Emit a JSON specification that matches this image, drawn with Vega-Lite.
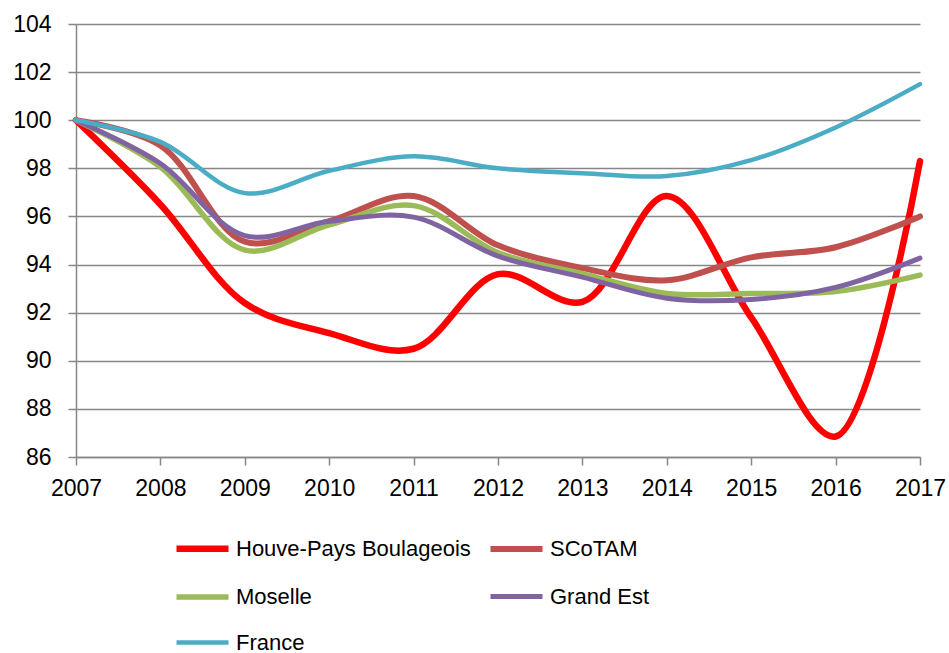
{
  "$schema": "https://vega.github.io/schema/vega-lite/v6.json",
  "width": 844,
  "height": 433,
  "autosize": "none",
  "padding": {"left": 76, "top": 24, "right": 29, "bottom": 196},
  "background": "white",
  "config": {
    "view": {"stroke": null},
    "font": "Liberation Sans",
    "axis": {
      "labelFont": "Liberation Sans",
      "labelFontSize": 23,
      "labelColor": "#000000",
      "domainColor": "#868686",
      "domainWidth": 1.5,
      "tickColor": "#868686",
      "tickWidth": 1.5,
      "tickSize": 8,
      "gridColor": "#868686",
      "gridWidth": 1.5,
      "gridOpacity": 1,
      "title": null
    }
  },
  "data": {
    "values": [
      {"year": 2007, "series": "Houve-Pays Boulageois", "value": 100},
      {"year": 2008, "series": "Houve-Pays Boulageois", "value": 96.5},
      {"year": 2009, "series": "Houve-Pays Boulageois", "value": 92.4},
      {"year": 2010, "series": "Houve-Pays Boulageois", "value": 91.15},
      {"year": 2011, "series": "Houve-Pays Boulageois", "value": 90.5},
      {"year": 2012, "series": "Houve-Pays Boulageois", "value": 93.6},
      {"year": 2013, "series": "Houve-Pays Boulageois", "value": 92.45},
      {"year": 2014, "series": "Houve-Pays Boulageois", "value": 96.85},
      {"year": 2015, "series": "Houve-Pays Boulageois", "value": 91.8},
      {"year": 2016, "series": "Houve-Pays Boulageois", "value": 86.85},
      {"year": 2017, "series": "Houve-Pays Boulageois", "value": 98.3},
      {"year": 2007, "series": "SCoTAM", "value": 100},
      {"year": 2008, "series": "SCoTAM", "value": 98.95},
      {"year": 2009, "series": "SCoTAM", "value": 94.95},
      {"year": 2010, "series": "SCoTAM", "value": 95.8},
      {"year": 2011, "series": "SCoTAM", "value": 96.85},
      {"year": 2012, "series": "SCoTAM", "value": 94.8},
      {"year": 2013, "series": "SCoTAM", "value": 93.85},
      {"year": 2014, "series": "SCoTAM", "value": 93.35},
      {"year": 2015, "series": "SCoTAM", "value": 94.3},
      {"year": 2016, "series": "SCoTAM", "value": 94.72},
      {"year": 2017, "series": "SCoTAM", "value": 96},
      {"year": 2007, "series": "Moselle", "value": 100},
      {"year": 2008, "series": "Moselle", "value": 98.05},
      {"year": 2009, "series": "Moselle", "value": 94.6},
      {"year": 2010, "series": "Moselle", "value": 95.65},
      {"year": 2011, "series": "Moselle", "value": 96.45},
      {"year": 2012, "series": "Moselle", "value": 94.5},
      {"year": 2013, "series": "Moselle", "value": 93.62},
      {"year": 2014, "series": "Moselle", "value": 92.8},
      {"year": 2015, "series": "Moselle", "value": 92.8},
      {"year": 2016, "series": "Moselle", "value": 92.88},
      {"year": 2017, "series": "Moselle", "value": 93.56},
      {"year": 2007, "series": "Grand Est", "value": 100},
      {"year": 2008, "series": "Grand Est", "value": 98.2},
      {"year": 2009, "series": "Grand Est", "value": 95.2},
      {"year": 2010, "series": "Grand Est", "value": 95.8},
      {"year": 2011, "series": "Grand Est", "value": 95.97},
      {"year": 2012, "series": "Grand Est", "value": 94.35},
      {"year": 2013, "series": "Grand Est", "value": 93.48},
      {"year": 2014, "series": "Grand Est", "value": 92.6},
      {"year": 2015, "series": "Grand Est", "value": 92.55},
      {"year": 2016, "series": "Grand Est", "value": 93.05},
      {"year": 2017, "series": "Grand Est", "value": 94.27},
      {"year": 2007, "series": "France", "value": 100},
      {"year": 2008, "series": "France", "value": 99.1},
      {"year": 2009, "series": "France", "value": 96.97},
      {"year": 2010, "series": "France", "value": 97.9},
      {"year": 2011, "series": "France", "value": 98.5},
      {"year": 2012, "series": "France", "value": 98.0},
      {"year": 2013, "series": "France", "value": 97.8},
      {"year": 2014, "series": "France", "value": 97.68},
      {"year": 2015, "series": "France", "value": 98.34},
      {"year": 2016, "series": "France", "value": 99.7},
      {"year": 2017, "series": "France", "value": 101.5}
    ]
  },
  "mark": {"type": "line", "interpolate": "catmull-rom", "strokeCap": "round"},
  "encoding": {
    "x": {
      "field": "year",
      "type": "quantitative",
      "scale": {"domain": [2007, 2017], "nice": false, "zero": false},
      "axis": {
        "values": [2007, 2008, 2009, 2010, 2011, 2012, 2013, 2014, 2015, 2016, 2017],
        "format": "d",
        "grid": false,
        "labelPadding": 12,
        "labelFlush": false
      }
    },
    "y": {
      "field": "value",
      "type": "quantitative",
      "scale": {"domain": [86, 104], "nice": false, "zero": false},
      "axis": {
        "values": [86, 88, 90, 92, 94, 96, 98, 100, 102, 104],
        "grid": true,
        "labelPadding": 17
      }
    },
    "color": {
      "field": "series",
      "type": "nominal",
      "scale": {
        "domain": ["Houve-Pays Boulageois", "SCoTAM", "Moselle", "Grand Est", "France"],
        "range": ["#FF0000", "#C0504D", "#9BBB59", "#8064A2", "#4BACC6"]
      },
      "legend": {
        "title": null,
        "orient": "none",
        "legendX": 97,
        "legendY": 495,
        "direction": "horizontal",
        "columns": 2,
        "symbolType": "stroke",
        "symbolSize": 2704,
        "symbolStrokeWidth": 5,
        "labelFont": "Liberation Sans",
        "labelFontSize": 22,
        "labelColor": "#000000",
        "labelOffset": 4,
        "labelLimit": 400,
        "columnPadding": 7,
        "rowPadding": 6
      }
    },
    "strokeWidth": {
      "field": "series",
      "type": "nominal",
      "scale": {
        "domain": ["Houve-Pays Boulageois", "SCoTAM", "Moselle", "Grand Est", "France"],
        "range": [6.5, 4.5, 4.5, 4.5, 4.5]
      },
      "legend": null
    }
  }
}
